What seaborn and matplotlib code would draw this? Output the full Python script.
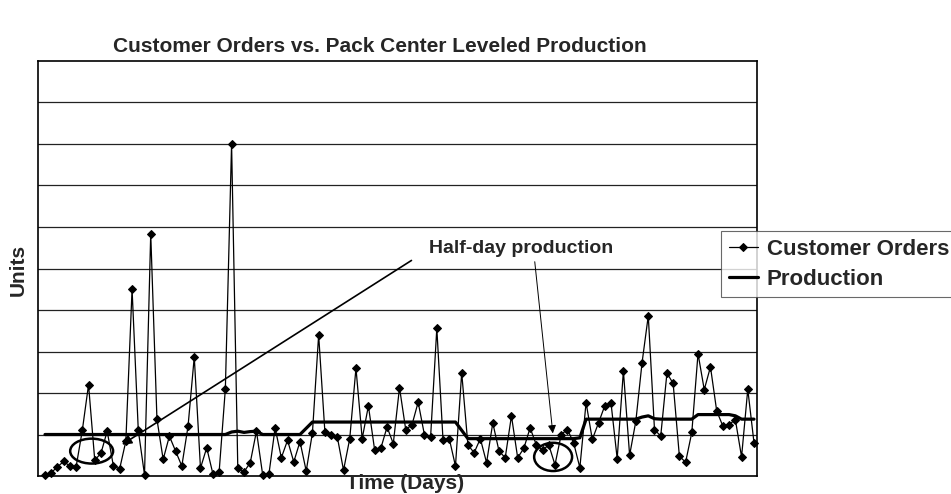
import numpy as np
import pandas as pd
import matplotlib.pyplot as plt
import seaborn as sns
from matplotlib.patches import Ellipse

# daily customer orders (in grid units)
orders = [0.02, 0.08, 0.22, 0.35, 0.24, 0.22, 1.1, 2.2, 0.38, 0.55,
          1.08, 0.24, 0.17, 0.84, 4.5, 1.1, 0.03, 5.84, 1.37, 0.4,
          0.96, 0.6, 0.24, 1.2, 2.87, 0.19, 0.68, 0.05, 0.1, 2.1,
          8.0, 0.19, 0.1, 0.32, 1.08, 0.03, 0.04, 1.16, 0.44, 0.86,
          0.34, 0.83, 0.12, 1.04, 3.4, 1.07, 1.0, 0.94, 0.14, 0.9,
          2.6, 0.9, 1.69, 0.63, 0.67, 1.18, 0.78, 2.13, 1.12, 1.23,
          1.78, 1.0, 0.94, 3.56, 0.86, 0.9, 0.24, 2.49, 0.75, 0.56,
          0.9, 0.32, 1.28, 0.6, 0.44, 1.45, 0.44, 0.67, 1.16, 0.75,
          0.62, 0.75, 0.27, 1.0, 1.12, 0.8, 0.2, 1.77, 0.88, 1.28,
          1.69, 1.77, 0.42, 2.53, 0.5, 1.32, 2.73, 3.86, 1.12, 0.96,
          2.48, 2.23, 0.48, 0.33, 1.05, 2.95, 2.08, 2.63, 1.57, 1.2,
          1.24, 1.36, 0.46, 2.09, 0.8]

# leveled production
production = [1.0] * 30 + [1.06, 1.08, 1.05, 1.07, 1.08] + [1.0] * 7 + \
             [1.15] + [1.3] * 24 + [1.1] + [0.9] * 18 + [0.92] + \
             [1.37] * 9 + [1.42, 1.45, 1.38] + [1.37] * 6 + [1.48] * 6 + \
             [1.45] + [1.37] * 3

days = list(range(1, len(orders) + 1))
df = pd.DataFrame({'Day': days, 'Customer Orders': orders, 'Production': production})

sns.set_style('white')
plt.rcParams['font.family'] = ['Liberation Sans', 'DejaVu Sans']

fig = plt.figure(figsize=(9.51, 4.94), dpi=100)
ax = fig.add_axes([38/951, 18/494, 719/951, 415/494])

sns.lineplot(data=df, x='Day', y='Customer Orders', ax=ax, color='black', lw=0.9,
             marker='D', ms=4, mec='black', mfc='black', label='Customer Orders', clip_on=False)
sns.lineplot(data=df, x='Day', y='Production', ax=ax, color='black', lw=2.3, label='Production')

ax.set_xlim(1 - 7/6.22, len(days) + 3/6.22)
ax.set_ylim(0, 10)
ax.set_yticks(range(1, 10))
ax.set_xticks([])
ax.yaxis.grid(True, color='#222222', lw=0.9)
ax.tick_params(left=False, bottom=False, labelleft=False, labelbottom=False)
for s in ax.spines.values():
    s.set_color('black')
    s.set_linewidth(1.2)
ax.set_xlabel('')
ax.set_ylabel('')

# circles around the half-day production days
ax.add_patch(Ellipse((8.5, 0.6), 6.9, 0.6, fill=False, lw=1.8, color='black'))
ax.add_patch(Ellipse((82.7, 0.46), 6.1, 0.68, fill=False, lw=1.8, color='black'))

ax.text(77.5, 5.47, 'Half-day production', ha='center', va='center',
        fontsize=14, fontweight='bold')
ax.annotate('', xy=(13.0, 0.72), xytext=(60.3, 5.23),
            arrowprops=dict(arrowstyle='-|>', color='black', lw=1.2, mutation_scale=14))
ax.annotate('', xy=(82.7, 0.96), xytext=(79.7, 5.23),
            arrowprops=dict(arrowstyle='-|>', color='black', lw=0.7, mutation_scale=12))

leg = ax.legend(loc='upper left', bbox_to_anchor=(721/951, 1 - 231/494),
                bbox_transform=fig.transFigure, frameon=True, fancybox=False,
                prop={'size': 16, 'weight': 'bold'}, handlelength=1.3,
                handletextpad=0.4, borderpad=0.35, labelspacing=0.4, borderaxespad=0)
leg.get_frame().set_edgecolor('#444444')
leg.get_frame().set_linewidth(0.8)

fig.text(380/951, 1 - 47/494, 'Customer Orders vs. Pack Center Leveled Production',
         ha='center', va='center', fontsize=15, fontweight='bold')
fig.text(18/951, 1 - 270/494, 'Units', rotation=90, ha='center', va='center',
         fontsize=15, fontweight='bold')
fig.text(405/951, 1 - 483/494, 'Time (Days)', ha='center', va='center',
         fontsize=15, fontweight='bold')

fig.savefig('out.png', dpi=100)
